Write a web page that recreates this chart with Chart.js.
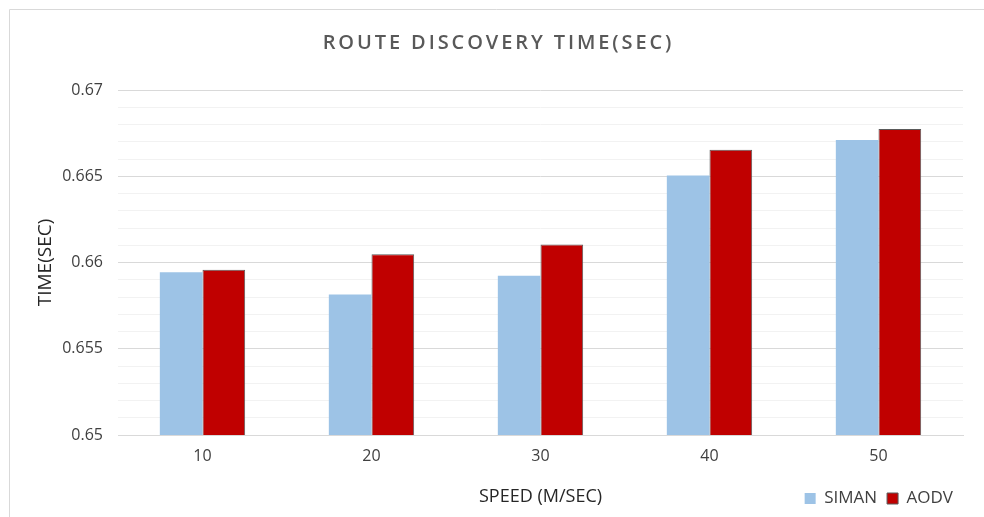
<!DOCTYPE html>
<html>
<head>
<meta charset="utf-8">
<script src="https://cdn.jsdelivr.net/npm/chart.js@4/dist/chart.umd.min.js"></script>
<style>
  html, body { margin: 0; padding: 0; background: #ffffff; }
  #wrap { width: 984px; height: 517px; position: relative; }
</style>
</head>
<body>
<div id="wrap"><canvas id="chart"></canvas></div>
<script>
// Speeds (m/sec) on the category axis
const speeds = ['10', '20', '30', '40', '50'];
// Route discovery time (sec) per protocol
const simanTimes = [0.65943, 0.65814, 0.65923, 0.66505, 0.66710];
const aodvTimes  = [0.65958, 0.66048, 0.66105, 0.66654, 0.66774];
// Value axis range and steps
const yMin = 0.65;
const yMax = 0.67;
const minorStep = 0.001;
const labelEvery = 5; // a labelled major line every 5 minor steps

const FONT = "'Open Sans', 'DejaVu Sans', sans-serif";

function isMajor(v) {
  return Math.round((v - yMin) / minorStep) % labelEvery === 0;
}

// Light frame around the chart, open to the right and bottom
const framePlugin = {
  id: 'frame',
  beforeDraw(chart) {
    const ctx = chart.ctx;
    ctx.save();
    ctx.strokeStyle = '#d9d9d9';
    ctx.lineWidth = 1;
    ctx.beginPath();
    ctx.moveTo(9.5, chart.height);
    ctx.lineTo(9.5, 9.5);
    ctx.lineTo(chart.width, 9.5);
    ctx.stroke();
    ctx.restore();
  }
};

// Spaced-out lettering for the chart title, centred on the framed box
const titleSpacingPlugin = {
  id: 'titleSpacing',
  beforeDraw(chart) {
    const tb = chart.titleBlock;
    if (tb && !tb._spaced) {
      const orig = tb.draw.bind(tb);
      tb.draw = function () {
        const ctx = chart.ctx;
        ctx.save();
        ctx.letterSpacing = '2.9px';
        ctx.translate(12, 1);
        orig();
        ctx.restore();
      };
      tb._spaced = true;
    }
  }
};

new Chart(document.getElementById('chart'), {
  type: 'bar',
  data: {
    labels: speeds,
    datasets: [
      {
        label: 'SIMAN',
        data: simanTimes,
        backgroundColor: '#9dc3e6',
        borderWidth: 0
      },
      {
        label: 'AODV',
        data: aodvTimes,
        backgroundColor: '#c00000',
        borderColor: '#5a5a5a',
        borderWidth: 1
      }
    ]
  },
  options: {
    responsive: true,
    maintainAspectRatio: false,
    animation: false,
    layout: { padding: { left: 10, right: 21, top: 0, bottom: 0 } },
    datasets: {
      bar: { categoryPercentage: 0.505, barPercentage: 1.0 }
    },
    plugins: {
      title: {
        display: true,
        text: 'ROUTE DISCOVERY TIME(SEC)',
        color: '#595959',
        font: { family: FONT, size: 20, weight: '600' },
        padding: { top: 30, bottom: 36 }
      },
      legend: {
        display: true,
        position: 'bottom',
        align: 'end',
        labels: {
          boxWidth: 11,
          boxHeight: 11,
          color: '#404040',
          font: { family: FONT, size: 17 },
          padding: 10
        }
      },
      tooltip: { enabled: false }
    },
    scales: {
      x: {
        grid: { display: false, drawTicks: false },
        border: { display: true, color: '#d9d9d9' },
        ticks: {
          color: '#404040',
          font: { family: FONT, size: 16 },
          padding: 12
        },
        title: {
          display: true,
          text: 'SPEED (M/SEC)',
          color: '#262626',
          font: { family: FONT, size: 18 },
          padding: { top: 0, bottom: -28 }
        },
        afterFit(scale) { scale.height = 45; }
      },
      y: {
        min: yMin,
        max: yMax,
        border: { display: false },
        grid: {
          drawTicks: false,
          color: ctx => isMajor(ctx.tick.value) ? '#d9d9d9' : '#f2f2f2',
          lineWidth: 1
        },
        ticks: {
          stepSize: minorStep,
          autoSkip: false,
          color: '#404040',
          font: { family: FONT, size: 16 },
          padding: 15,
          callback: v => isMajor(v) ? String(Number(v.toFixed(3))) : ''
        },
        title: {
          display: true,
          text: 'TIME(SEC)',
          color: '#262626',
          font: { family: FONT, size: 19 },
          padding: { top: 24, bottom: 0 }
        },
        afterFit(scale) { scale.width = 108; }
      }
    }
  },
  plugins: [framePlugin, titleSpacingPlugin]
});
</script>
</body>
</html>
